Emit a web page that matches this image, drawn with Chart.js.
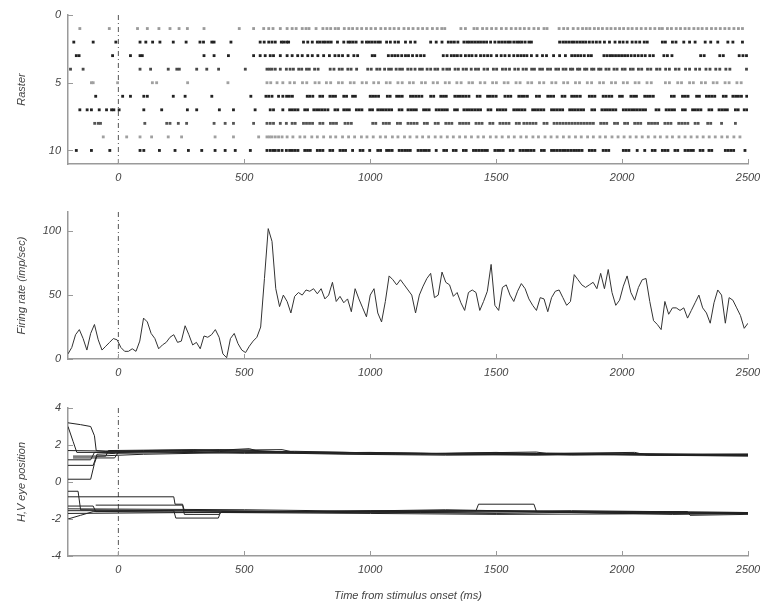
<!DOCTYPE html>
<html lang="en">
<head>
<meta charset="UTF-8" />
<title>Raster, firing rate and eye position</title>
<style>
  html, body { margin: 0; padding: 0; background: #fff; }
  #wrap { position: relative; width: 764px; height: 605px; overflow: hidden; }
  canvas { position: absolute; left: 0; }
</style>
</head>
<body>
<div id="wrap">
  <canvas id="rasterChart" width="764" height="190" style="top:0"></canvas>
  <canvas id="rateChart" width="764" height="190" style="top:195px"></canvas>
  <canvas id="eyeChart" width="764" height="215" style="top:390px"></canvas>
</div>

<script src="https://cdn.jsdelivr.net/npm/chart.js"></script>
<script>
  // ---- axis ticks ----
  const timeTicks = [0, 500, 1000, 1500, 2000, 2500];
  const trialTicks = [0, 5, 10];
  const rateTicks = [0, 50, 100];
  const eyeTicks = [-4, -2, 0, 2, 4];

  // ---- raster: spike times (ms) per trial ----
  const spikesTrial1 = [-153, -36, 76, 115, 161, 205, 241, 274, 340, 480, 537, 577, 597, 614, 643, 670,
    690, 706, 730, 745, 757, 785, 812, 828, 843, 861, 874, 897, 915, 930, 948, 966, 985, 1003, 1021, 1042,
    1060, 1078, 1095, 1113, 1134, 1152, 1170, 1190, 1208, 1226, 1247, 1266, 1284, 1296, 1360, 1378, 1412,
    1425, 1446, 1463, 1482, 1500, 1521, 1540, 1560, 1578, 1595, 1612, 1630, 1650, 1668, 1690, 1702, 1750,
    1768, 1784, 1806, 1825, 1843, 1858, 1872, 1890, 1906, 1922, 1940, 1956, 1973, 1990, 2006, 2024, 2040,
    2058, 2076, 2094, 2112, 2130, 2148, 2160, 2180, 2196, 2215, 2232, 2250, 2266, 2285, 2302, 2318, 2336,
    2355, 2372, 2390, 2408, 2425, 2444, 2462, 2478];
  const spikesTrial2 = [-177, -100, -10, 86, 109, 136, 165, 218, 269, 324, 338, 371, 380, 447, 563, 579, 597,
    610, 623, 647, 656, 668, 676, 735, 752, 770, 790, 800, 812, 822, 834, 845, 870, 895, 912, 921, 932, 944,
    968, 985, 995, 1006, 1018, 1030, 1040, 1065, 1080, 1098, 1112, 1140, 1160, 1178, 1240, 1262, 1285, 1310,
    1322, 1334, 1348, 1372, 1384, 1394, 1405, 1416, 1427, 1438, 1450, 1462, 1478, 1495, 1510, 1522, 1534,
    1546, 1556, 1570, 1582, 1592, 1602, 1615, 1630, 1640, 1752, 1765, 1776, 1788, 1800, 1810, 1822, 1834,
    1845, 1856, 1870, 1884, 1898, 1912, 1930, 1950, 1972, 1990, 2004, 2020, 2040, 2055, 2070, 2088, 2100,
    2160, 2172, 2200, 2214, 2245, 2268, 2290, 2330, 2352, 2380, 2420, 2440, 2478];
  const spikesTrial3 = [-167, -156, -23, 48, 86, 95, 340, 380, 437, 537, 563, 583, 603, 616, 643, 670,
    690, 712, 730, 752, 770, 792, 815, 838, 860, 875, 890, 912, 935, 950, 1008, 1018, 1072, 1086, 1098,
    1110, 1125, 1140, 1152, 1168, 1185, 1200, 1214, 1290, 1305, 1322, 1334, 1346, 1360, 1378, 1392, 1404,
    1420, 1438, 1452, 1466, 1480, 1502, 1520, 1535, 1552, 1570, 1585, 1598, 1610, 1622, 1640, 1662, 1684,
    1700, 1728, 1752, 1775, 1800, 1812, 1824, 1836, 1850, 1866, 1878, 1928, 1940, 1952, 1962, 1974, 1986,
    1998, 2010, 2022, 2036, 2050, 2064, 2078, 2092, 2110, 2124, 2166, 2180, 2198, 2312, 2326, 2388, 2402,
    2465, 2480, 2494];
  const spikesTrial4 = [-190, -140, 86, 128, 198, 232, 242, 311, 351, 398, 504, 590, 600, 610, 623, 643, 667,
    682, 695, 716, 728, 747, 758, 779, 793, 841, 856, 877, 889, 911, 924, 946, 990, 1004, 1026, 1038, 1057,
    1073, 1084, 1103, 1117, 1128, 1149, 1162, 1178, 1196, 1207, 1226, 1240, 1257, 1268, 1289, 1304, 1315,
    1337, 1350, 1369, 1382, 1401, 1418, 1430, 1452, 1466, 1489, 1502, 1525, 1538, 1553, 1574, 1588, 1607,
    1620, 1641, 1652, 1673, 1684, 1704, 1716, 1737, 1748, 1766, 1777, 1795, 1804, 1823, 1832, 1851, 1860,
    1879, 1888, 1907, 1916, 1936, 1948, 1968, 1980, 2001, 2012, 2033, 2044, 2065, 2078, 2101, 2114, 2137,
    2150, 2173, 2188, 2212, 2226, 2252, 2268, 2292, 2308, 2333, 2349, 2372, 2388, 2412, 2428, 2494];
  const spikesTrial5 = [-107, -100, -3, 135, 152, 275, 435, 590, 605, 630, 653,
    681, 699, 731, 748, 781, 797, 826, 843, 874, 889, 921, 936, 968, 985, 1014, 1033, 1064, 1079, 1110,
    1127, 1156, 1171, 1204, 1219, 1250, 1267, 1298, 1314, 1344, 1361, 1392, 1406, 1437, 1455, 1486, 1501,
    1532, 1547, 1579, 1595, 1626, 1641, 1672, 1689, 1721, 1737, 1768, 1784, 1815, 1831, 1862, 1879, 1911,
    1926, 1958, 1974, 2005, 2021, 2052, 2067, 2099, 2116, 2172, 2188, 2221, 2236, 2268, 2283, 2315, 2331,
    2362, 2377, 2409, 2425, 2456, 2473];
  const spikesTrial6 = [-90, 17, 48, 101, 115, 218, 265, 371, 526, 586, 597, 610, 636, 653,
    668, 679, 691, 750, 760, 772, 800, 811, 840, 851, 862, 895, 906, 930, 941, 1000, 1010, 1021, 1033,
    1068, 1079, 1105, 1116, 1127, 1160, 1171, 1182, 1193, 1205, 1240, 1252, 1280, 1291, 1302, 1336, 1347,
    1358, 1369, 1380, 1392, 1425, 1436, 1466, 1477, 1488, 1500, 1535, 1547, 1558, 1590, 1601, 1612, 1624,
    1660, 1672, 1705, 1716, 1728, 1762, 1773, 1800, 1811, 1822, 1834, 1870, 1881, 1892, 1925, 1936, 1948,
    1959, 1990, 2001, 2035, 2046, 2057, 2090, 2101, 2112, 2124, 2196, 2207, 2240, 2251, 2262, 2296, 2307,
    2335, 2346, 2357, 2368, 2402, 2413, 2440, 2451, 2462, 2474, 2495];
  const spikesTrial7 = [-153, -124, -107, -76, -47, -27, -18, 3, 101, 172, 274, 311, 401, 457, 543, 603, 616, 653,
    680, 691, 702, 713, 740, 751, 776, 787, 798, 809, 820, 832, 860, 871, 895, 906, 917, 945, 956, 967,
    998, 1009, 1030, 1041, 1052, 1063, 1074, 1085, 1115, 1126, 1150, 1161, 1172, 1183, 1212, 1223, 1234,
    1262, 1273, 1284, 1295, 1306, 1335, 1346, 1372, 1383, 1394, 1405, 1416, 1427, 1438, 1468, 1479, 1505,
    1516, 1527, 1538, 1570, 1581, 1592, 1603, 1614, 1645, 1656, 1667, 1678, 1689, 1720, 1731, 1742, 1753,
    1764, 1792, 1803, 1814, 1825, 1836, 1847, 1880, 1891, 1920, 1931, 1942, 1953, 1964, 1975, 2005, 2016,
    2027, 2038, 2049, 2060, 2071, 2082, 2093, 2135, 2146, 2175, 2186, 2197, 2208, 2240, 2251, 2280, 2291,
    2302, 2313, 2345, 2356, 2385, 2396, 2407, 2418, 2450, 2461, 2485, 2496];
  const spikesTrial8 = [-94, -80, -71, 105, 192, 205, 238, 271, 380, 424, 457, 537, 590, 603, 616, 643, 667,
    690, 702, 735, 747, 759, 771, 800, 812, 842, 854, 866, 900, 912, 925, 1010, 1022, 1052, 1064, 1076,
    1108, 1120, 1150, 1162, 1174, 1186, 1215, 1227, 1258, 1270, 1300, 1312, 1324, 1355, 1367, 1379, 1391,
    1420, 1432, 1444, 1475, 1487, 1515, 1527, 1539, 1551, 1580, 1592, 1610, 1622, 1634, 1646, 1658, 1690,
    1702, 1730, 1742, 1754, 1766, 1778, 1790, 1802, 1814, 1826, 1838, 1850, 1862, 1874, 1886, 1915, 1927,
    1939, 1970, 1982, 2010, 2022, 2050, 2062, 2074, 2105, 2117, 2129, 2141, 2170, 2182, 2194, 2225, 2237,
    2249, 2261, 2290, 2302, 2340, 2352, 2395, 2450];
  const spikesTrial9 = [-60, 33, 86, 132, 198, 251, 384, 457, 557, 590, 600, 610, 623, 636, 650,
    670, 693, 721, 740, 768, 790, 815, 842, 863, 890, 914, 938, 965, 987, 1012, 1040, 1061, 1088, 1110,
    1136, 1158, 1185, 1208, 1232, 1258, 1281, 1306, 1330, 1355, 1378, 1402, 1428, 1450, 1477, 1500, 1524,
    1549, 1572, 1598, 1620, 1646, 1668, 1694, 1718, 1742, 1767, 1790, 1815, 1838, 1863, 1886, 1912, 1934,
    1960, 1984, 2008, 2032, 2056, 2080, 2104, 2130, 2152, 2178, 2200, 2226, 2250, 2274, 2298, 2322, 2346,
    2370, 2396, 2418, 2444, 2468];
  const spikesTrial10 = [-167, -107, -34, 86, 101, 163, 225, 278, 331, 384, 424, 464, 524, 590, 603, 614, 623,
    636, 650, 667, 680, 691, 702, 713, 740, 751, 762, 790, 801, 812, 840, 851, 880, 891, 902, 930, 960,
    971, 998, 1030, 1041, 1065, 1076, 1087, 1115, 1126, 1137, 1148, 1159, 1190, 1201, 1212, 1223, 1234,
    1262, 1292, 1303, 1330, 1341, 1370, 1381, 1410, 1421, 1432, 1443, 1454, 1465, 1495, 1506, 1517, 1528,
    1556, 1567, 1595, 1606, 1617, 1628, 1639, 1650, 1680, 1691, 1720, 1731, 1742, 1753, 1764, 1775, 1786,
    1797, 1808, 1819, 1830, 1841, 1870, 1881, 1892, 1925, 1936, 1947, 2005, 2016, 2027, 2060, 2090, 2120,
    2131, 2160, 2171, 2182, 2210, 2221, 2250, 2261, 2272, 2283, 2310, 2321, 2345, 2356, 2410, 2421, 2432,
    2443, 2488];
  const rasterTrials = [spikesTrial1, spikesTrial2, spikesTrial3, spikesTrial4, spikesTrial5,
    spikesTrial6, spikesTrial7, spikesTrial8, spikesTrial9, spikesTrial10];
  const rasterInk = ['#9a9a9a', '#222', '#222', '#484848', '#a0a0a0', '#222', '#222', '#555', '#a0a0a0', '#222'];

  // ---- firing rate (imp/sec), 15 ms bins starting at -200 ms ----
  const rateStart = -200;
  const rateBin = 15;
  const firingRate = [4, 9, 19, 23, 16, 7, 20, 27, 15, 7, 10, 13, 16, 15, 9, 6, 6, 8, 6, 14,
    32, 29, 20, 16, 8, 11, 13, 17, 19, 13, 14, 26, 19, 11, 13, 8, 18, 17, 19, 23,
    17, 4, 1, 16, 20, 12, 7, 5, 10, 14, 17, 25, 63, 102, 92, 55, 41, 50, 45, 36,
    49, 52, 50, 54, 53, 55, 51, 55, 47, 50, 60, 45, 49, 44, 47, 37, 55, 47, 40, 33,
    50, 55, 36, 29,
    45, 65, 62, 58, 62, 58, 54, 50, 36, 50, 57, 63, 67, 48, 50, 68, 60, 58, 49, 52,
    44, 38, 52, 54, 52, 38, 45, 53, 74, 42, 38, 56, 58, 50, 45, 53, 59, 55, 47, 42,
    38, 48, 47, 37, 48, 53, 54, 48, 42, 45, 66, 62, 58, 56, 58, 60, 55, 67, 55, 70,
    52, 42, 46, 57, 65, 52, 46, 56, 62, 63, 45, 30, 27, 23, 45, 35, 40, 40, 38, 40,
    32, 38, 44, 50, 40, 36, 28, 44, 54, 50, 28, 48, 46, 40, 34, 24, 28];

  // ---- eye position traces [time ms, deg] ----
  const eyeTraceU1 = [[-200, 3.2], [-150, 3.1], [-110, 3.0], [-95, 2.5], [-88, 1.7], [-50, 1.65], [100, 1.7], [400, 1.75], [550, 1.7], [700, 1.6], [1000, 1.55], [1400, 1.5], [1800, 1.5], [2200, 1.45], [2500, 1.45]];
  const eyeTraceU2 = [[-200, 3.0], [-180, 2.2], [-165, 1.6], [0, 1.6], [300, 1.65], [520, 1.8], [560, 1.65], [900, 1.6], [1200, 1.5], [1700, 1.56], [2100, 1.45], [2500, 1.42]];
  const eyeTraceU3 = [[-200, 1.2], [-110, 1.2], [-95, 1.6], [200, 1.7], [400, 1.65], [800, 1.55], [1100, 1.5], [1500, 1.6], [1800, 1.46], [2500, 1.5]];
  const eyeTraceU4 = [[-200, 0.9], [-100, 0.9], [-85, 1.5], [-10, 1.55], [300, 1.6], [700, 1.66], [1100, 1.55], [1600, 1.5], [2000, 1.55], [2500, 1.45]];
  const eyeTraceU5 = [[-200, 0.15], [-110, 0.15], [-95, 1.0], [-85, 1.4], [100, 1.5], [500, 1.6], [900, 1.5], [1300, 1.45], [1900, 1.5], [2500, 1.5]];
  const eyeTraceU6 = [[-180, 1.4], [-50, 1.4], [-40, 1.7], [300, 1.75], [700, 1.6], [1200, 1.55], [1650, 1.45], [2000, 1.5], [2500, 1.45]];
  const eyeTraceU7 = [[-180, 1.3], [-15, 1.3], [0, 1.6], [250, 1.7], [650, 1.75], [700, 1.6], [1300, 1.55], [1660, 1.62], [1720, 1.5], [2200, 1.5], [2500, 1.5]];
  const eyeTraceU8 = [[-200, 1.7], [100, 1.65], [500, 1.55], [1000, 1.6], [1400, 1.5], [2050, 1.6], [2100, 1.45], [2500, 1.4]];
  const eyeTraceL1 = [[-200, -0.5], [-160, -0.5], [-150, -1.5], [200, -1.55], [600, -1.6], [1000, -1.6], [1500, -1.55], [2000, -1.65], [2500, -1.7]];
  const eyeTraceL2 = [[-200, -0.8], [220, -0.8], [225, -1.2], [255, -1.2], [262, -1.55], [700, -1.6], [1200, -1.65], [1800, -1.6], [2500, -1.7]];
  const eyeTraceL3 = [[-90, -1.25], [255, -1.25], [262, -1.75], [400, -1.75], [410, -1.6], [900, -1.65], [1400, -1.55], [2000, -1.7], [2500, -1.65]];
  const eyeTraceL4 = [[-200, -2.0], [-150, -1.8], [-100, -1.6], [300, -1.55], [800, -1.6], [1300, -1.5], [1700, -1.6], [2200, -1.75], [2500, -1.7]];
  const eyeTraceL5 = [[-200, -1.55], [220, -1.55], [228, -1.95], [397, -1.95], [405, -1.65], [1000, -1.7], [1500, -1.75], [2500, -1.7]];
  const eyeTraceL6 = [[-200, -1.3], [-100, -1.3], [-90, -1.6], [500, -1.65], [1000, -1.55], [1420, -1.55], [1430, -1.2], [1650, -1.2], [1660, -1.6], [2500, -1.65]];
  const eyeTraceL7 = [[-200, -1.7], [300, -1.65], [800, -1.6], [1500, -1.7], [2000, -1.6], [2260, -1.6], [2270, -1.8], [2500, -1.75]];
  const eyeTraceL8 = [[-200, -1.45], [500, -1.5], [1100, -1.6], [1800, -1.55], [2500, -1.65]];
  const eyeTraces = [eyeTraceU1, eyeTraceU2, eyeTraceU3, eyeTraceU4, eyeTraceU5, eyeTraceU6, eyeTraceU7, eyeTraceU8,
    eyeTraceL1, eyeTraceL2, eyeTraceL3, eyeTraceL4, eyeTraceL5, eyeTraceL6, eyeTraceL7, eyeTraceL8];

  // ---- shared look ----
  const FONT = { family: "'Liberation Sans', Arial, sans-serif", size: 11, style: 'italic' };
  const INK = '#444';
  const AXIS = '#9a9a9a';

  // inward tick marks + dash-dot line at stimulus onset
  const panelMarks = {
    id: 'panelMarks',
    beforeDatasetsDraw(chart) {
      const { ctx, chartArea, scales: { x } } = chart;
      const x0 = x.getPixelForValue(0);
      ctx.save();
      ctx.strokeStyle = '#555';
      ctx.lineWidth = 1;
      ctx.setLineDash([5, 3, 1, 3]);
      ctx.beginPath();
      ctx.moveTo(x0, chartArea.top);
      ctx.lineTo(x0, chartArea.bottom);
      ctx.stroke();
      ctx.restore();
    },
    afterDatasetsDraw(chart) {
      const { ctx, chartArea, scales: { x, y } } = chart;
      ctx.save();
      ctx.strokeStyle = AXIS;
      ctx.lineWidth = 1;
      ctx.beginPath();
      x.ticks.forEach(t => {
        const px = Math.round(x.getPixelForValue(t.value)) + 0.5;
        ctx.moveTo(px, chartArea.bottom);
        ctx.lineTo(px, chartArea.bottom - 5);
      });
      y.ticks.forEach(t => {
        const py = Math.round(y.getPixelForValue(t.value)) + 0.5;
        ctx.moveTo(chartArea.left, py);
        ctx.lineTo(chartArea.left + 5, py);
      });
      ctx.stroke();
      ctx.restore();
    }
  };

  function panelOptions(cfg) {
    return {
      responsive: false,
      animation: false,
      layout: { padding: { top: cfg.top, right: 16, bottom: 0, left: 0 } },
      plugins: { legend: { display: false }, tooltip: { enabled: false } },
      scales: {
        x: {
          type: 'linear',
          min: -200,
          max: 2500,
          grid: { display: false, drawTicks: false },
          border: { display: true, color: AXIS, width: 1.5 },
          afterBuildTicks: scale => { scale.ticks = timeTicks.map(v => ({ value: v })); },
          afterFit: scale => { scale.height = cfg.xHeight; scale.paddingLeft = 0; scale.paddingRight = 0; },
          ticks: { font: FONT, color: INK, padding: 7, maxRotation: 0, callback: v => String(v) },
          title: {
            display: !!cfg.xTitle,
            text: cfg.xTitle || '',
            font: FONT,
            color: INK,
            padding: { top: 0, bottom: 2 }
          }
        },
        y: {
          type: 'linear',
          min: cfg.yMin,
          max: cfg.yMax,
          reverse: !!cfg.reverse,
          grid: { display: false, drawTicks: false },
          border: { display: true, color: AXIS, width: 1.5 },
          afterBuildTicks: scale => { scale.ticks = cfg.yTicks.map(v => ({ value: v })); },
          afterFit: scale => { scale.width = 68; scale.paddingTop = 0; scale.paddingBottom = 0; },
          ticks: { font: FONT, color: INK, padding: 7, callback: v => String(v) },
          title: {
            display: true,
            text: cfg.yTitle,
            font: FONT,
            color: INK,
            padding: { top: 15, bottom: 0 }
          }
        }
      }
    };
  }

  // ---- raster ----
  new Chart(document.getElementById('rasterChart'), {
    type: 'scatter',
    data: {
      datasets: rasterTrials.map((spikes, i) => ({
        data: spikes.map(t => ({ x: t, y: i + 1 })),
        pointStyle: 'rect',
        pointRadius: 2,
        pointBorderWidth: 0,
        backgroundColor: rasterInk[i]
      }))
    },
    options: panelOptions({ top: 15, xHeight: 26, yMin: 0, yMax: 11, reverse: true, yTicks: trialTicks, yTitle: 'Raster' }),
    plugins: [panelMarks]
  });

  // ---- firing rate ----
  new Chart(document.getElementById('rateChart'), {
    type: 'line',
    data: {
      datasets: [{
        data: firingRate.map((v, i) => ({ x: rateStart + i * rateBin, y: v })),
        borderColor: '#333',
        borderWidth: 1,
        pointRadius: 0,
        tension: 0
      }]
    },
    options: panelOptions({ top: 17, xHeight: 26, yMin: 0, yMax: 115, yTicks: rateTicks, yTitle: 'Firing rate (imp/sec)' }),
    plugins: [panelMarks]
  });

  // ---- eye position ----
  new Chart(document.getElementById('eyeChart'), {
    type: 'line',
    data: {
      datasets: eyeTraces.map(trace => ({
        data: trace.map(p => ({ x: p[0], y: p[1] })),
        borderColor: '#222',
        borderWidth: 1,
        pointRadius: 0,
        tension: 0
      }))
    },
    options: panelOptions({ top: 18, xHeight: 49, yMin: -4, yMax: 4, yTicks: eyeTicks, yTitle: 'H,V eye position', xTitle: 'Time from stimulus onset (ms)' }),
    plugins: [panelMarks]
  });
</script>
</body>
</html>
